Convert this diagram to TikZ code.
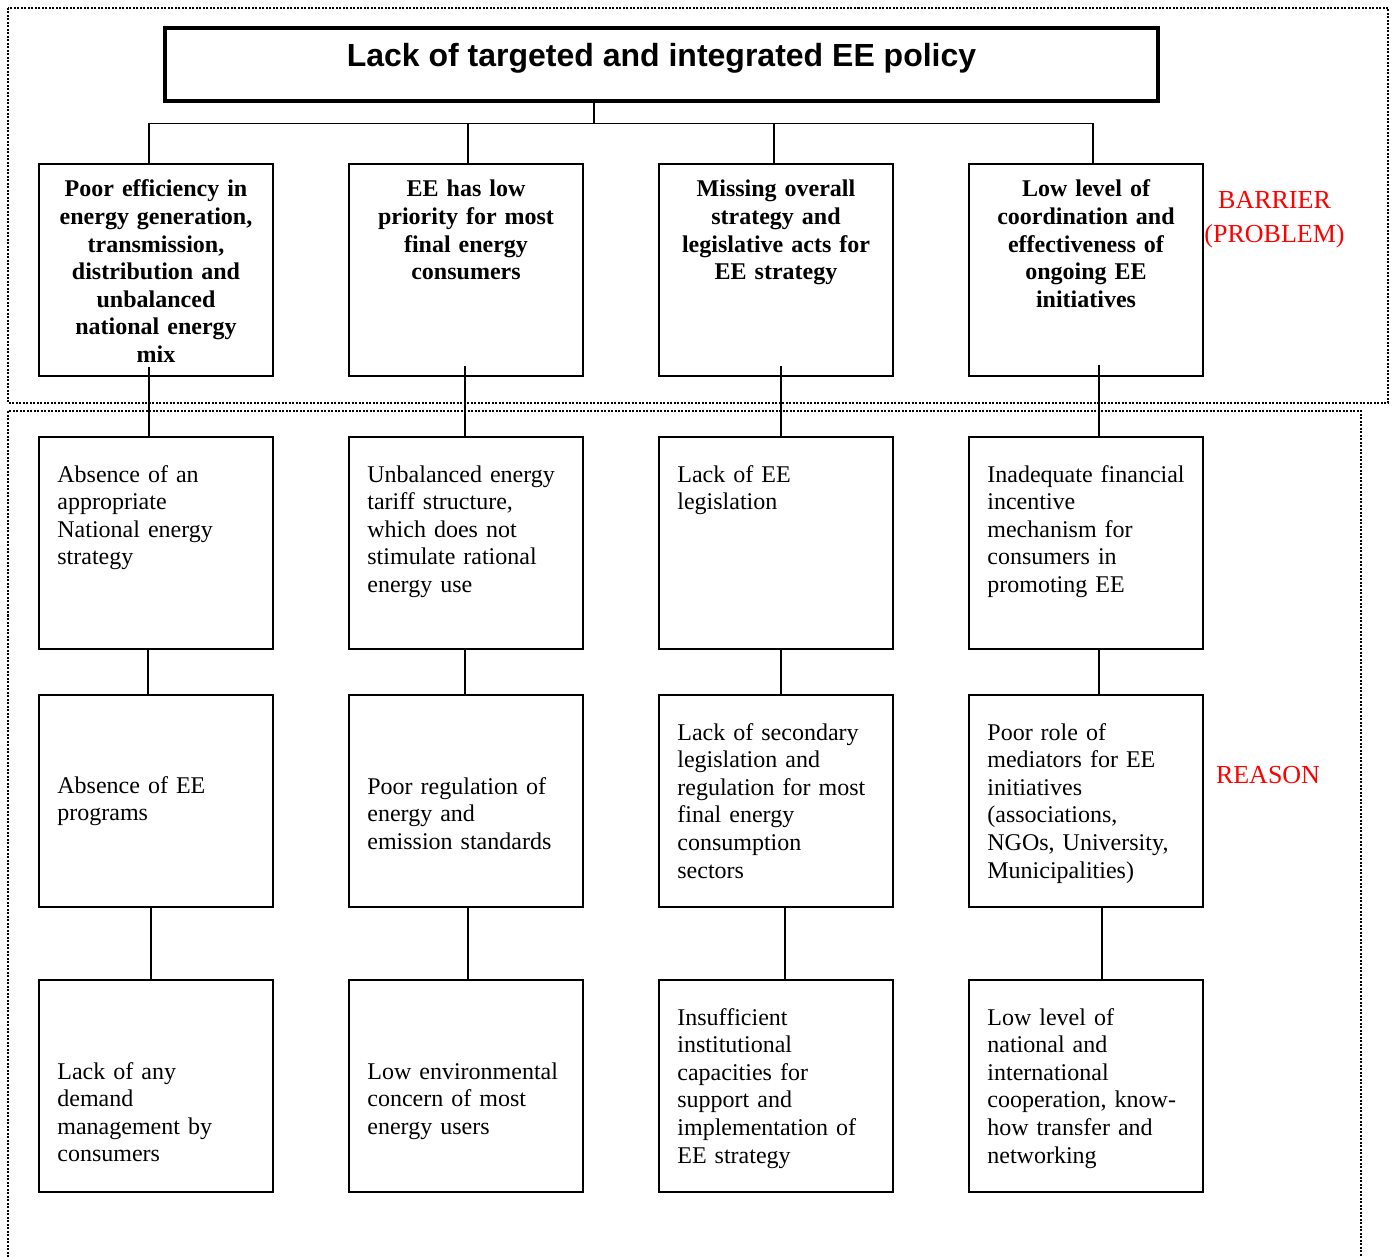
\documentclass[tikz,border=0pt]{standalone}
\usepackage{fontspec}
\setmainfont{Liberation Serif}
\newfontfamily\headfont{Liberation Sans}
\usetikzlibrary{positioning}

\begin{document}
\begin{tikzpicture}[x=0.5pt, y=-0.5pt, node distance=155pt,
  cell/.style={draw, line width=1pt, minimum width=117pt, minimum height=106pt, inner sep=0pt},
  head/.style={draw, line width=1.6pt, minimum width=496.5pt, minimum height=36.5pt,
    text height=11.5pt, text depth=9pt, font=\headfont\bfseries\fontsize{16}{19}\selectfont},
  bar/.style={anchor=base, inner sep=0pt, text width=112pt, align=center,
    font=\bfseries\fontsize{12}{13.8}\selectfont},
  why/.style={anchor=base west, inner sep=0pt, text width=105pt, align=left,
    font=\fontsize{12}{13.8}\selectfont},
  link/.style={line width=0.9pt},
  frame/.style={line width=1pt, dash pattern=on 1pt off 0.75pt},
  tag/.style={anchor=base, inner sep=0pt, text width=80pt, align=center, text=red,
    font=\fontsize{13}{17}\selectfont}]
  \useasboundingbox (0,0) rectangle (1393,1257);

  % dotted frames
  \draw[frame] (8,8) rectangle (1388,403);
  \draw[frame] (8,1257) -- (8,411) -- (1361,411) -- (1361,1257);

  % policy and barriers
  \node[head] (title) at (661.5,64.5) {Lack of targeted and integrated EE policy};
  \node[cell] (b1) at (156,270) {};
  \node[cell, right of=b1] (b2) {};
  \node[cell, right of=b2] (b3) {};
  \node[cell, right of=b3] (b4) {};
  \node[bar] (b1t) at ([shift={(0,34)}]b1.north) {Poor efficiency in\\energy generation,\\transmission,\\distribution and\\unbalanced\\national energy\\mix};
  \node[bar] (b2t) at ([shift={(0,34)}]b2.north) {EE has low\\priority for most\\final energy\\consumers};
  \node[bar] (b3t) at ([shift={(0,34)}]b3.north) {Missing overall\\strategy and\\legislative acts for\\EE strategy};
  \node[bar] (b4t) at ([shift={(0,34)}]b4.north) {Low level of\\coordination and\\effectiveness of\\ongoing EE\\initiatives};

  % reasons
  \node[cell, below of=b1, node distance=136.5pt] (r1a) {};
  \node[cell, right of=r1a] (r1b) {};
  \node[cell, right of=r1b] (r1c) {};
  \node[cell, right of=r1c] (r1d) {};
  \node[cell, below of=r1a, node distance=129pt] (r2a) {};
  \node[cell, right of=r2a] (r2b) {};
  \node[cell, right of=r2b] (r2c) {};
  \node[cell, right of=r2c] (r2d) {};
  \node[cell, below of=r2a, node distance=142.5pt] (r3a) {};
  \node[cell, right of=r3a] (r3b) {};
  \node[cell, right of=r3b] (r3c) {};
  \node[cell, right of=r3c] (r3d) {};

  \node[why] (r1at) at ([shift={(19,46)}]r1a.north west) {Absence of an\\appropriate\\National energy\\strategy};
  \node[why] (r1bt) at ([shift={(19,46)}]r1b.north west) {Unbalanced energy\\tariff structure,\\which does not\\stimulate rational\\energy use};
  \node[why] (r1ct) at ([shift={(19,46)}]r1c.north west) {Lack of EE\\legislation};
  \node[why] (r1dt) at ([shift={(19,46)}]r1d.north west) {Inadequate financial\\incentive\\mechanism for\\consumers in\\promoting EE};
  \node[why] (r2at) at ([shift={(19,99)}]r2a.north west) {Absence of EE\\programs};
  \node[why] (r2bt) at ([shift={(19,100)}]r2b.north west) {Poor regulation of\\energy and\\emission standards};
  \node[why] (r2ct) at ([shift={(19,46)}]r2c.north west) {Lack of secondary\\legislation and\\regulation for most\\final energy\\consumption\\sectors};
  \node[why] (r2dt) at ([shift={(19,46)}]r2d.north west) {Poor role of\\mediators for EE\\initiatives\\(associations,\\NGOs, University,\\Municipalities)};
  \node[why] (r3at) at ([shift={(19,100)}]r3a.north west) {Lack of any\\demand\\management by\\consumers};
  \node[why] (r3bt) at ([shift={(19,100)}]r3b.north west) {Low environmental\\concern of most\\energy users};
  \node[why] (r3ct) at ([shift={(19,46)}]r3c.north west) {Insufficient\\institutional\\capacities for\\support and\\implementation of\\EE strategy};
  \node[why] (r3dt) at ([shift={(19,46)}]r3d.north west) {Low level of\\national and\\international\\cooperation, know-\\how transfer and\\networking};

  % side labels
  \node[tag] (barrier) at (1274.5,209) {BARRIER\\(PROBLEM)};
  \node[tag] (reason) at (1268,783) {REASON};

  % tree lines
  \coordinate (bus) at ([xshift=-33.75pt,yshift=-10.5pt]title.south);
  \coordinate (d2) at ([xshift=1pt]b2.north);
  \coordinate (d3) at ([xshift=-1pt]b3.north);
  \draw[link] ([xshift=-33.75pt]title.south) -- (bus);
  \draw[link] ([xshift=-3.5pt]b1.north) |- (bus) -| ([xshift=3.5pt]b4.north);
  \draw[link] (d2) -- (d2 |- bus);
  \draw[link] (d3) -- (d3 |- bus);

  \draw[link] ([xshift=-3.5pt,yshift=5pt]b1.south) -- ([xshift=-3.5pt]r1a.north);
  \draw[link] ([xshift=-0.5pt,yshift=5.5pt]b2.south) -- ([xshift=-0.5pt]r1b.north);
  \draw[link] ([xshift=2.5pt,yshift=5.5pt]b3.south) -- ([xshift=2.5pt]r1c.north);
  \draw[link] ([xshift=6.5pt,yshift=6pt]b4.south) -- ([xshift=6.5pt]r1d.north);
  \draw[link] ([xshift=-4pt]r1a.south) -- ([xshift=-4pt]r2a.north);
  \draw[link] ([xshift=-0.5pt]r1b.south) -- ([xshift=-0.5pt]r2b.north);
  \draw[link] ([xshift=2.5pt]r1c.south) -- ([xshift=2.5pt]r2c.north);
  \draw[link] ([xshift=6.5pt]r1d.south) -- ([xshift=6.5pt]r2d.north);
  \draw[link] ([xshift=-2.5pt]r2a.south) -- ([xshift=-2.5pt]r3a.north);
  \draw[link] ([xshift=1pt]r2b.south) -- ([xshift=1pt]r3b.north);
  \draw[link] ([xshift=4.5pt]r2c.south) -- ([xshift=4.5pt]r3c.north);
  \draw[link] ([xshift=8pt]r2d.south) -- ([xshift=8pt]r3d.north);
\end{tikzpicture}
\end{document}
